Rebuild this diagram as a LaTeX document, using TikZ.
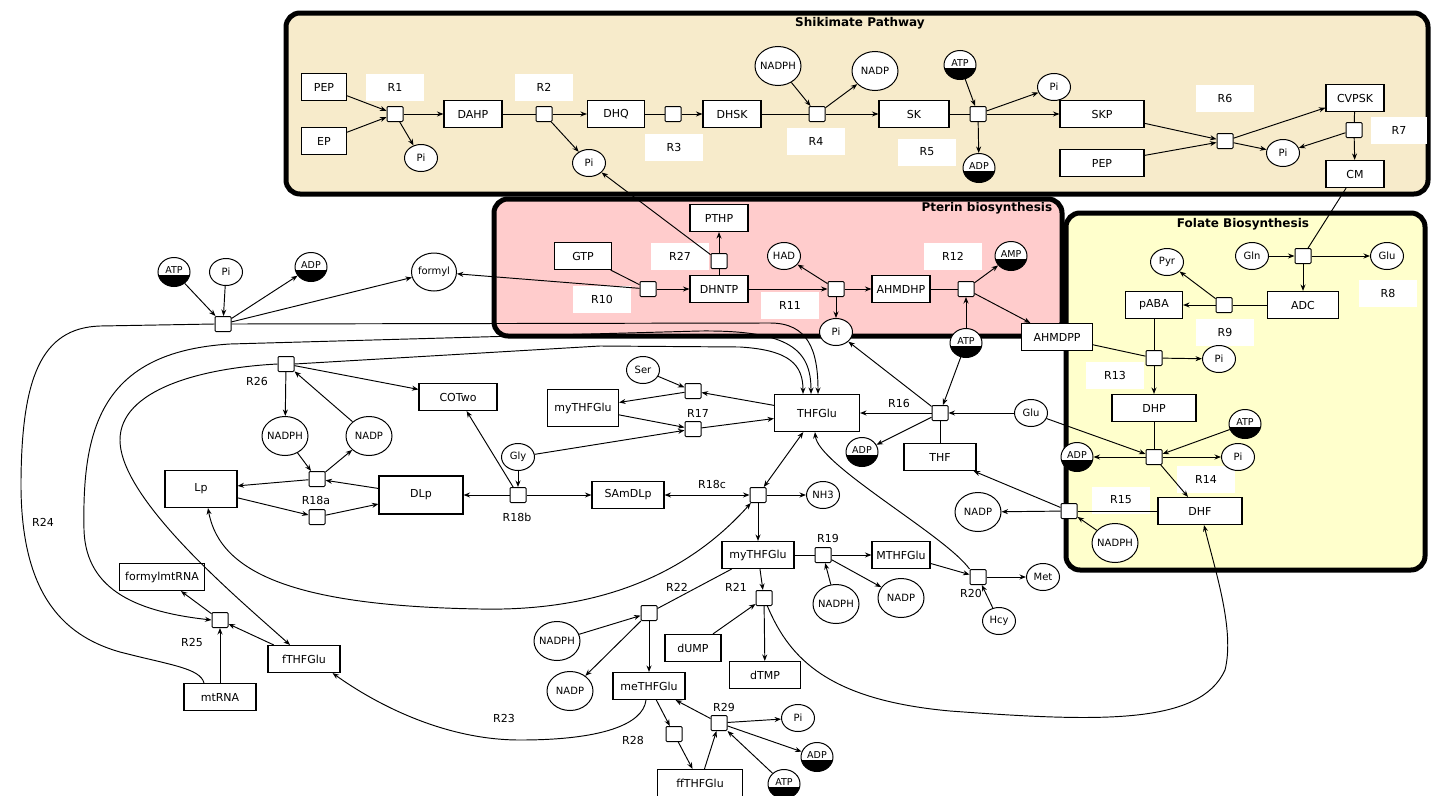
\documentclass[tikz,border=0pt]{standalone}
\usepackage{fontspec}
\setmainfont{DejaVu Sans}
\usetikzlibrary{arrows.meta,shapes.geometric}
\definecolor{shikfill}{HTML}{F7EBCB}
\definecolor{pterfill}{HTML}{FFCCCC}
\definecolor{folfill}{HTML}{FFFFCC}
\tikzset{
  region/.style={draw, line width=5pt, rounded corners=14pt},
  title/.style={font=\bfseries\fontsize{12}{14}\selectfont},
  species/.style={draw, fill=white, line width=1.1pt, minimum width=58pt, minimum height=27pt, inner sep=1pt},
  rxn/.style={draw, fill=white, line width=1pt, minimum width=16pt, minimum height=15pt, inner sep=0pt, rounded corners=1pt},
  rlabel/.style={fill=white, minimum width=58pt, minimum height=27pt},
  chem/.style={draw, fill=white, ellipse, line width=1pt, inner sep=-12pt, minimum width=33pt, minimum height=27pt, font=\fontsize{10}{12}\selectfont},
  bigchem/.style={chem, minimum width=46pt, minimum height=39pt},
  energy/.style={draw, fill=white, ellipse, line width=1pt, inner sep=-12pt, minimum width=32pt, minimum height=29pt,
    font=\fontsize{9.5}{11}\selectfont, text height=7pt, text depth=4pt,
    path picture={\fill[black] ([yshift=-3pt]path picture bounding box.west) rectangle (path picture bounding box.south east);}}
}
\begin{document}
\begin{tikzpicture}[x=1pt, y=-1pt, >={Stealth[length=6.5pt,width=5pt]}, line width=0.95pt, font=\fontsize{11}{13}\selectfont]
\useasboundingbox (0,0) rectangle (1431,795);

\draw[region, fill=shikfill] (286,13) rectangle (1428,194);
\draw[region, fill=pterfill] (494,199) rectangle (1062,336);
\draw[region, fill=folfill] (1066,213) rectangle (1425,570);
\node[title] (shiktitle) at (860,23) {Shikimate Pathway};
\node[title, anchor=east] (ptertitle) at (1056,208) {Pterin biosynthesis};
\node[title] (foltitle) at (1243,224) {Folate Biosynthesis};

\node[rlabel] (lr1) at (395,87) {R1};
\node[rlabel] (lr2) at (544,87) {R2};
\node[rlabel] (lr3) at (674,147) {R3};
\node[rlabel] (lr4) at (816,141) {R4};
\node[rlabel] (lr5) at (927,152) {R5};
\node[rlabel] (lr6) at (1225,98) {R6};
\node[rlabel, minimum width=56pt] (lr7) at (1399,130) {R7};
\node[rlabel] (lr8) at (1388,293) {R8};
\node[rlabel] (lr9) at (1225,332) {R9};
\node[rlabel] (lr10) at (602,299) {R10};
\node[rlabel] (lr27) at (680,256) {R27};
\node[rlabel] (lr11) at (790,305) {R11};
\node[rlabel] (lr12) at (953,256) {R12};
\node[rlabel] (lr13) at (1115,375) {R13};
\node[rlabel] (lr14) at (1206,479) {R14};
\node[rlabel] (lr15) at (1121,500) {R15};

\node (lr16) at (899,403) {R16};
\node (lr17) at (698,413) {R17};
\node (lr18a) at (316,500) {R18a};
\node (lr18b) at (517,517) {R18b};
\node (lr18c) at (712,484) {R18c};
\node (lr19) at (828,538) {R19};
\node (lr20) at (971,593) {R20};
\node (lr21) at (736,587) {R21};
\node (lr22) at (677,587) {R22};
\node (lr23) at (504,718) {R23};
\node (lr24) at (43,522) {R24};
\node (lr25) at (192,642) {R25};
\node (lr26) at (257,381) {R26};
\node (lr28) at (633,740) {R28};
\node (lr29) at (724,707) {R29};

\node[species, minimum width=45pt] (pepa) at (324,87) {PEP};
\node[species, minimum width=45pt] (ep) at (324,141) {EP};
\node[species] (dahp) at (473,114) {DAHP};
\node[species, minimum width=57pt] (dhq) at (616,114) {DHQ};
\node[species] (dhsk) at (732,114) {DHSK};
\node[species, minimum width=70pt] (sk) at (914,114) {SK};
\node[species, minimum width=84pt] (skp) at (1102,114) {SKP};
\node[species, minimum width=84pt] (pepb) at (1102,163) {PEP};
\node[species] (cvpsk) at (1355,98) {CVPSK};
\node[species] (cm) at (1355,174) {CM};
\node[chem] (pia) at (421,158) {Pi};
\node[chem] (pib) at (589,163) {Pi};
\node[chem] (pic) at (1054,87) {Pi};
\node[chem] (pid) at (1283,153) {Pi};
\node[bigchem] (nadpha) at (778,66) {NADPH};
\node[bigchem] (nadpa) at (875,71) {NADP};
\node[energy] (atpa) at (960,65) {ATP};
\node[energy] (adpa) at (979,168) {ADP};

\node[species, minimum width=57pt] (gtp) at (583,256) {GTP};
\node[species] (dhntp) at (719,289) {DHNTP};
\node[species] (pthp) at (719,218) {PTHP};
\node[species] (ahmdhp) at (901,289) {AHMDHP};
\node[species, minimum width=71pt] (ahmdpp) at (1057,337) {AHMDPP};
\node[chem] (had) at (784,256) {HAD};
\node[chem] (pie) at (836,332) {Pi};
\node[energy] (amp) at (1011,256) {AMP};
\node[energy] (atpb) at (966,343) {ATP};

\node[species, minimum width=71pt] (adc) at (1303,305) {ADC};
\node[species, minimum width=57pt] (paba) at (1154,305) {pABA};
\node[species, minimum width=84pt] (dhp) at (1154,408) {DHP};
\node[species, minimum width=84pt] (dhf) at (1200,511) {DHF};
\node[chem] (gln) at (1252,256) {Gln};
\node[chem] (glua) at (1387,256) {Glu};
\node[chem] (pyr) at (1167,262) {Pyr};
\node[chem] (pig) at (1219,359) {Pi};
\node[chem] (pih) at (1238,457) {Pi};
\node[energy] (atpc) at (1245,424) {ATP};
\node[energy] (adpb) at (1077,457) {ADP};
\node[bigchem] (nadphc) at (1115,543) {NADPH};

\node[species, minimum width=72pt] (thf) at (940,457) {THF};
\node[species, minimum width=85pt, minimum height=37pt] (thfglu) at (817,413) {THFGlu};
\node[species, minimum width=71pt, minimum height=37pt] (mythfglua) at (583,408) {myTHFGlu};
\node[species, minimum width=78pt] (cotwo) at (458,397) {COTwo};
\node[species, minimum width=84pt, minimum height=38pt] (dlp) at (421,495) {DLp};
\node[species, minimum width=72pt, minimum height=37pt] (lp) at (201,489) {Lp};
\node[species, minimum width=72pt] (samdlp) at (628,495) {SAmDLp};
\node[species, minimum width=72pt] (mythfglub) at (758,555) {myTHFGlu};
\node[species] (mthfglu) at (901,555) {MTHFGlu};
\node[species, minimum width=56pt] (dump) at (693,648) {dUMP};
\node[species, minimum width=71pt] (dtmp) at (765,675) {dTMP};
\node[species, minimum width=72pt] (methfglu) at (649,686) {meTHFGlu};
\node[species, minimum width=85pt] (ffthfglu) at (700,783) {ffTHFGlu};
\node[species, minimum width=85pt] (formylmtrna) at (162,577) {formylmtRNA};
\node[species, minimum width=72pt] (fthfglu) at (304,659) {fTHFGlu};
\node[species, minimum width=72pt] (mtrna) at (220,697) {mtRNA};
\node[chem] (ser) at (643,370) {Ser};
\node[chem] (gly) at (518,457) {Gly};
\node[chem] (glub) at (1031,413) {Glu};
\node[chem] (nh3) at (823,495) {NH3};
\node[chem] (met) at (1043,577) {Met};
\node[chem] (hcy) at (999,621) {Hcy};
\node[chem] (pif) at (226,272) {Pi};
\node[chem] (pii) at (798,718) {Pi};
\node[chem, minimum width=45pt, minimum height=38pt] (formyl) at (434,272) {formyl};
\node[bigchem] (nadphb) at (285,436) {NADPH};
\node[bigchem] (nadpb) at (369,436) {NADP};
\node[bigchem] (nadpc) at (978,512) {NADP};
\node[bigchem] (nadphd) at (836,604) {NADPH};
\node[bigchem] (nadpd) at (901,598) {NADP};
\node[bigchem] (nadphe) at (557,641) {NADPH};
\node[bigchem] (nadpe) at (570,691) {NADP};
\node[energy] (atpd) at (174,272) {ATP};
\node[energy] (adpd) at (311,267) {ADP};
\node[energy] (adpc) at (862,452) {ADP};
\node[energy] (adpe) at (817,757) {ADP};
\node[energy] (atpe) at (784,784) {ATP};

\node[rxn] (r1) at (395,114) {};
\node[rxn] (r2) at (544,114) {};
\node[rxn] (r3) at (673,114) {};
\node[rxn] (r4) at (817,114) {};
\node[rxn] (r5) at (978,114) {};
\node[rxn] (r6) at (1225,141) {};
\node[rxn] (r7) at (1354,130) {};
\node[rxn] (r8) at (1303,256) {};
\node[rxn] (r9) at (1224,305) {};
\node[rxn] (r10) at (648,289) {};
\node[rxn] (r27) at (719,261) {};
\node[rxn] (r11) at (836,289) {};
\node[rxn] (r12) at (966,289) {};
\node[rxn] (r13) at (1154,358) {};
\node[rxn] (r14) at (1154,457) {};
\node[rxn] (r15) at (1069,511) {};
\node[rxn] (r16) at (940,413) {};
\node[rxn] (r17a) at (693,391) {};
\node[rxn] (r17b) at (693,429) {};
\node[rxn] (r18aa) at (317,479) {};
\node[rxn] (r18ab) at (317,517) {};
\node[rxn] (r18b) at (518,495) {};
\node[rxn] (r18c) at (758,495) {};
\node[rxn] (r19) at (823,555) {};
\node[rxn] (r20) at (978,577) {};
\node[rxn] (r21) at (764,598) {};
\node[rxn] (r22) at (649,613) {};
\node[rxn] (r24) at (223,324) {};
\node[rxn] (r25) at (220,620) {};
\node[rxn] (r26) at (286,364) {};
\node[rxn] (r28) at (674,734) {};
\node[rxn] (r29) at (719,723) {};

\draw[->] (pepa) -- (r1);
\draw[->] (ep) -- (r1);
\draw[->] (r1) -- (dahp);
\draw[->] (r1) -- (pia);
\draw (dahp) -- (r2);
\draw[->] (r2) -- (dhq);
\draw[->] (r2) -- (pib);
\draw (dhq) -- (r3);
\draw[->] (r3) -- (dhsk);
\draw (dhsk) -- (r4);
\draw[->] (nadpha) -- (r4);
\draw[->] (r4) -- (nadpa);
\draw[->] (r4) -- (sk);
\draw (sk) -- (r5);
\draw[->] (atpa) -- (r5);
\draw[->] (r5) -- (adpa);
\draw[->] (r5) -- (pic);
\draw[->] (r5) -- (skp);
\draw[->] (skp) -- (r6);
\draw[->] (pepb) -- (r6);
\draw[->] (r6) -- (cvpsk);
\draw[->] (r6) -- (pid);
\draw (cvpsk) -- (r7);
\draw[->] (r7) -- (pid);
\draw[->] (r7) -- (cm);
\draw (cm) -- (r8);

\draw (gtp) -- (r10);
\draw[->] (r10) -- (dhntp);
\draw[->] (r10) -- (formyl);
\draw (dhntp) -- (r27);
\draw[->] (r27) -- (pthp);
\draw[->] (r27) -- (pib);
\draw[->] (dhntp) -- (r11);
\draw[->] (r11) -- (had);
\draw[->] (r11) -- (pie);
\draw[->] (r11) -- (ahmdhp);
\draw (ahmdhp) -- (r12);
\draw[->] (atpb) -- (r12);
\draw[->] (r12) -- (amp);
\draw[->] (r12) -- (ahmdpp);

\draw[->] (gln) -- (r8);
\draw[->] (r8) -- (glua);
\draw[->] (r8) -- (adc);
\draw (adc) -- (r9);
\draw[->] (r9) -- (paba);
\draw[->] (r9) -- (pyr);
\draw (paba) -- (r13);
\draw (ahmdpp) -- (r13);
\draw[->] (r13) -- (pig);
\draw[->] (r13) -- (dhp);
\draw (dhp) -- (r14);
\draw[->] (atpc) -- (r14);
\draw[->] (glub) -- (r14);
\draw[->] (r14) -- (adpb);
\draw[->] (r14) -- (pih);
\draw[->] (r14) -- (dhf);
\draw (dhf) -- (r15);
\draw[->] (nadphc) -- (r15);
\draw[->] (r15) -- (nadpc);
\draw[->] (r15) -- (thf);

\draw (thf) -- (r16);
\draw[->] (atpb) -- (r16);
\draw[->] (glub) -- (r16);
\draw[->] (r16) -- (thfglu);
\draw[->] (r16) -- (adpc);
\draw[->] (r16) -- (pie);
\draw[->] (ser) -- (r17a);
\draw[->] (thfglu) -- (r17a);
\draw[->] (r17a) -- (mythfglua);
\draw[->] (mythfglua) -- (r17b);
\draw[->] (gly) -- (r17b);
\draw[->] (r17b) -- (thfglu);
\draw[->] (gly) -- (r18b);
\draw[->] (r18b) -- (cotwo);
\draw[->] (r18b) -- (dlp);
\draw[->] (r18b) -- (samdlp);
\draw[<->] (samdlp) -- (r18c);
\draw[->] (r18c) -- (nh3);
\draw[<->] (r18c) -- (thfglu);
\draw[->] (r18c) -- (mythfglub);
\draw[->] (r26) -- (nadphb);
\draw[->] (nadpb) -- (r26);
\draw[->] (r26) -- (cotwo);
\draw[->] (nadphb) -- (r18aa);
\draw[->] (r18aa) -- (nadpb);
\draw[->] (dlp) -- (r18aa);
\draw[->] (r18aa) -- (lp);
\draw[->] (lp) -- (r18ab);
\draw[->] (r18ab) -- (dlp);
\draw[->] (atpd) -- (r24);
\draw[->] (pif) -- (r24);
\draw[->] (r24) -- (adpd);
\draw[->] (r24) -- (formyl);
\draw[->] (mtrna) -- (r25);
\draw[->] (fthfglu) -- (r25);
\draw[->] (r25) -- (formylmtrna);
\draw (mythfglub) -- (r19);
\draw[->] (r19) -- (mthfglu);
\draw[->] (nadphd) -- (r19);
\draw[->] (r19) -- (nadpd);
\draw[->] (mthfglu) -- (r20);
\draw[->] (r20) -- (met);
\draw[->] (hcy) -- (r20);
\draw[->] (mythfglub) -- (r21);
\draw[->] (dump) -- (r21);
\draw[->] (r21) -- (dtmp);
\draw (mythfglub) -- (r22);
\draw[->] (nadphe) -- (r22);
\draw[->] (r22) -- (nadpe);
\draw[->] (r22) -- (methfglu);
\draw[->] (methfglu) -- (r28);
\draw[->] (r28) -- (ffthfglu);
\draw[->] (ffthfglu) -- (r29);
\draw[->] (r29) -- (methfglu);
\draw[->] (r29) -- (pii);
\draw[->] (r29) -- (adpe);
\draw[->] (atpe) -- (r29);

\draw[->] (r24.east) -- (770,323) .. controls (808,323) and (818,350) .. ([xshift=1pt]thfglu.north);
\draw[<->] (r25.west) .. controls (140,612) and (86,592) .. (84,530) .. controls (82,430) and (100,352) .. (230,344) -- (480,337) -- (700,331) .. controls (790,330) and (811,350) .. ([xshift=-6pt]thfglu.north);
\draw[->] (r26.east) -- (600,346) -- (740,347) .. controls (790,350) and (803,365) .. ([xshift=-14pt]thfglu.north);
\draw[->] (r26.west) .. controls (200,368) and (120,390) .. (120,440) .. controls (120,500) and (240,600) .. ([xshift=-14pt]fthfglu.north);
\draw (r24.west) -- (100,326) .. controls (40,328) and (22,380) .. (21,480) .. controls (20,590) and (60,635) .. (120,652) .. controls (170,665) and (200,668) .. ([xshift=-16pt]mtrna.north);
\draw[<->] ([xshift=7pt]lp.south) .. controls (220,575) and (300,606) .. (480,609) .. controls (620,612) and (700,560) .. (r18c);
\draw[->] (r21) .. controls (790,660) and (830,700) .. (950,711) .. controls (1100,722) and (1200,725) .. (1225,670) .. controls (1235,630) and (1215,570) .. ([xshift=4pt]dhf.south);
\draw[->] (r20.north west) .. controls (945,535) and (818,465) .. ([xshift=-2pt]thfglu.south);
\draw[->] ([xshift=-3pt]methfglu.south) .. controls (643,725) and (600,740) .. (520,740) .. controls (440,740) and (370,700) .. ([xshift=-8pt]fthfglu.south east);
\end{tikzpicture}
\end{document}
